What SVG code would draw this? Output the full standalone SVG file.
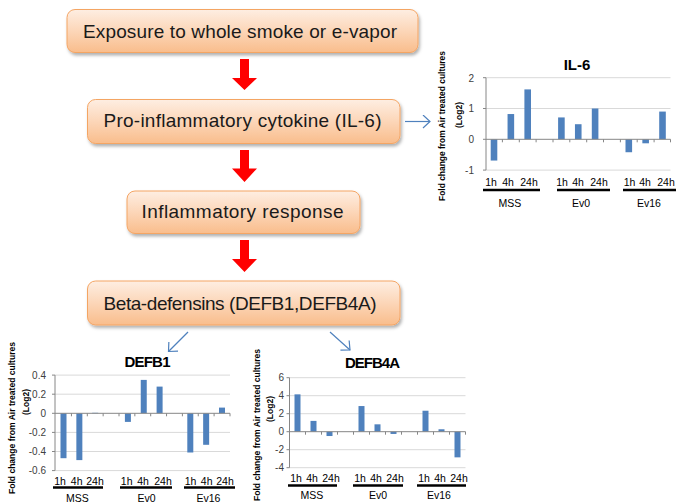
<svg xmlns="http://www.w3.org/2000/svg" width="685" height="503" viewBox="0 0 685 503">
<defs>
<linearGradient id="boxg" x1="0" y1="0" x2="0" y2="1">
<stop offset="0" stop-color="#FEEEE2"/>
<stop offset="0.5" stop-color="#FCD6B8"/>
<stop offset="1" stop-color="#F9BD8C"/>
</linearGradient>
<filter id="sh" x="-10%" y="-20%" width="120%" height="160%">
<feDropShadow dx="1.5" dy="2.5" stdDeviation="1.5" flood-color="#000" flood-opacity="0.3"/>
</filter>
<marker id="open" viewBox="0 0 14 14" refX="13" refY="7" markerWidth="14" markerHeight="14" orient="auto" markerUnits="userSpaceOnUse">
<path d="M6,0.5 L13,7 L6,13.5" fill="none" stroke="#4F81BD" stroke-width="1.2"/>
</marker>
<style>
.box{fill:url(#boxg);stroke:#F4A564;stroke-width:1;filter:url(#sh)}
.bt{font-family:"Liberation Sans",Arial,sans-serif;font-size:19px;fill:#1a1a1a;text-anchor:middle}
.red{fill:#FF0000}
.blue{stroke:#4F81BD;stroke-width:1.2;fill:none;marker-end:url(#open)}
.bar{fill:#4F81BD}
.grid{stroke:#D9D9D9;stroke-width:1}
.axis{stroke:#868686;stroke-width:1}
.tl{font-family:"Liberation Sans",Arial,sans-serif;font-size:10px;fill:#404040;text-anchor:end}
.cl{font-family:"Liberation Sans",Arial,sans-serif;font-size:10.5px;fill:#000;text-anchor:middle}
.ul{stroke:#000;stroke-width:2.5}
.ct{font-family:"Liberation Sans",Arial,sans-serif;font-size:15px;font-weight:bold;fill:#000;text-anchor:middle}
.at{font-family:"Liberation Sans",Arial,sans-serif;font-size:8.5px;font-weight:bold;fill:#000;text-anchor:middle}
</style>
</defs>
<rect width="685" height="503" fill="#fff"/>

<g id="n-exposure">
<rect class="box" x="67" y="9.5" width="351" height="43" rx="8"/>
<text class="bt" x="240" y="38" textLength="314">Exposure to whole smoke or e-vapor</text>
</g>
<g id="n-il6">
<rect class="box" x="87.5" y="99.5" width="312.5" height="44" rx="8"/>
<text class="bt" x="242.5" y="127" textLength="278">Pro-inflammatory cytokine (IL-6)</text>
</g>
<g id="n-inflam">
<rect class="box" x="127" y="191" width="233" height="42.5" rx="8"/>
<text class="bt" x="242.5" y="218" textLength="202">Inflammatory response</text>
</g>
<g id="n-beta">
<rect class="box" x="87.5" y="281" width="312.5" height="44" rx="8"/>
<text class="bt" x="240" y="310" textLength="273">Beta-defensins (DEFB1,DEFB4A)</text>
</g>

<g id="connectors">
<path class="red" d="M240,59 H249 V78 H257 L244.5,90 L232,78 H240 Z"/>
<path class="red" d="M240,150 H249 V168.5 H257 L244.5,182 L232,168.5 H240 Z"/>
<path class="red" d="M240,240 H249 V259 H257 L244.5,272 L232,259 H240 Z"/>
<line class="blue" x1="405" y1="121.5" x2="430" y2="121.5"/>
<line class="blue" x1="188" y1="332" x2="168.5" y2="351.5"/>
<line class="blue" x1="330" y1="332" x2="350" y2="350"/>
</g>

<g id="chart-il6">
<text class="ct" x="577" y="70">IL-6</text>
<line class="grid" x1="486" y1="77.7" x2="670.5" y2="77.7"/>
<line class="grid" x1="486" y1="108.5" x2="670.5" y2="108.5"/>
<line class="grid" x1="486" y1="170.1" x2="670.5" y2="170.1"/>
<g class="axis">
<line x1="486" y1="77.7" x2="486" y2="170.1"/>
<line x1="483" y1="77.7" x2="486" y2="77.7"/><line x1="483" y1="108.5" x2="486" y2="108.5"/><line x1="483" y1="139.3" x2="486" y2="139.3"/><line x1="483" y1="170.1" x2="486" y2="170.1"/>
</g>
<text class="tl" x="474" y="81.5">2</text>
<text class="tl" x="474" y="112.3">1</text>
<text class="tl" x="474" y="143">0</text>
<text class="tl" x="474" y="173.8">-1</text>
<rect class="bar" x="490.7" y="139.3" width="6.6" height="21.25"/>
<rect class="bar" x="507.55" y="114.04" width="6.6" height="25.26"/>
<rect class="bar" x="524.4" y="89.4" width="6.6" height="49.9"/>
<rect class="bar" x="558.1" y="117.43" width="6.6" height="21.87"/>
<rect class="bar" x="574.95" y="124.21" width="6.6" height="15.09"/>
<rect class="bar" x="591.8" y="108.5" width="6.6" height="30.8"/>
<rect class="bar" x="625.5" y="139.3" width="6.6" height="12.94"/>
<rect class="bar" x="642.35" y="139.3" width="6.6" height="4"/>
<rect class="bar" x="659.2" y="111.58" width="6.6" height="27.72"/>
<g class="axis">
<line x1="486" y1="139.3" x2="670.5" y2="139.3"/>
<path d="M502.4,139.3v3M519.3,139.3v3M536.1,139.3v3M553,139.3v3M569.8,139.3v3M586.7,139.3v3M603.5,139.3v3M620.4,139.3v3M637.2,139.3v3M654.1,139.3v3M670.5,139.3v3"/>
</g>
<text class="cl" x="491" y="185.5">1h</text><text class="cl" x="508" y="185.5">4h</text><text class="cl" x="529" y="185.5">24h</text>
<text class="cl" x="562" y="185.5">1h</text><text class="cl" x="578" y="185.5">4h</text><text class="cl" x="599" y="185.5">24h</text>
<text class="cl" x="629.5" y="185.5">1h</text><text class="cl" x="645" y="185.5">4h</text><text class="cl" x="666" y="185.5">24h</text>
<line class="ul" x1="483" y1="190" x2="540" y2="190"/>
<line class="ul" x1="557" y1="190" x2="610" y2="190"/>
<line class="ul" x1="623" y1="190" x2="676" y2="190"/>
<text class="cl" x="510" y="207">MSS</text>
<text class="cl" x="581" y="207">Ev0</text>
<text class="cl" x="649" y="207">Ev16</text>
<text class="at" transform="translate(445,126) rotate(-90)" textLength="150" lengthAdjust="spacingAndGlyphs">Fold change from Air treated cultures</text>
<text class="at" transform="translate(462,115) rotate(-90)">(Log2)</text>
</g>

<g id="chart-defb1">
<text class="ct" x="147.5" y="366.5" textLength="46">DEFB1</text>
<g class="grid">
<line x1="55" y1="375.1" x2="230" y2="375.1"/><line x1="55" y1="394.2" x2="230" y2="394.2"/><line x1="55" y1="432.4" x2="230" y2="432.4"/><line x1="55" y1="451.5" x2="230" y2="451.5"/><line x1="55" y1="470.6" x2="230" y2="470.6"/>
</g>
<g class="axis">
<line x1="55" y1="375.1" x2="55" y2="470.6"/>
<path d="M52,375.1h3M52,394.2h3M52,413.3h3M52,432.4h3M52,451.5h3M52,470.6h3"/>
</g>
<text class="tl" x="46" y="378.6">0.4</text>
<text class="tl" x="46" y="397.7">0.2</text>
<text class="tl" x="46" y="416.8">0</text>
<text class="tl" x="46" y="435.9">-0.2</text>
<text class="tl" x="46" y="455">-0.4</text>
<text class="tl" x="46" y="474.1">-0.6</text>
<rect class="bar" x="60.5" y="413.3" width="6" height="44.9"/>
<rect class="bar" x="76.35" y="413.3" width="6" height="46.8"/>
<rect class="bar" x="92.2" y="412.8" width="6" height="0.5"/>
<rect class="bar" x="124.9" y="413.3" width="6" height="8.6"/>
<rect class="bar" x="140.75" y="379.9" width="6" height="33.4"/>
<rect class="bar" x="156.6" y="386.6" width="6" height="26.7"/>
<rect class="bar" x="187.3" y="413.3" width="6" height="39.2"/>
<rect class="bar" x="203.15" y="413.3" width="6" height="31.5"/>
<rect class="bar" x="219" y="407.6" width="6" height="5.7"/>
<g class="axis">
<line x1="55" y1="413.3" x2="230" y2="413.3"/>
<path d="M71.45,413.3v3M87.3,413.3v3M103.15,413.3v3M119,413.3v3M134.85,413.3v3M150.7,413.3v3M166.55,413.3v3M182.4,413.3v3M198.25,413.3v3M214.1,413.3v3M230,413.3v3"/>
</g>
<text class="cl" x="60" y="484.5">1h</text><text class="cl" x="76.7" y="484.5">4h</text><text class="cl" x="95" y="484.5">24h</text>
<text class="cl" x="126.7" y="484.5">1h</text><text class="cl" x="143" y="484.5">4h</text><text class="cl" x="163" y="484.5">24h</text>
<text class="cl" x="190.5" y="484.5">1h</text><text class="cl" x="206.7" y="484.5">4h</text><text class="cl" x="225" y="484.5">24h</text>
<line class="ul" x1="53" y1="487.5" x2="103" y2="487.5"/>
<line class="ul" x1="120" y1="487.5" x2="172" y2="487.5"/>
<line class="ul" x1="184" y1="487.5" x2="235" y2="487.5"/>
<text class="cl" x="77.5" y="502">MSS</text>
<text class="cl" x="146.5" y="502">Ev0</text>
<text class="cl" x="208.5" y="502">Ev16</text>
<text class="at" transform="translate(15,418) rotate(-90)" textLength="152" lengthAdjust="spacingAndGlyphs">Fold change from Air treated cultures</text>
<text class="at" transform="translate(29,402) rotate(-90)">(Log2)</text>
</g>

<g id="chart-defb4a">
<text class="ct" x="372.5" y="368" textLength="55">DEFB4A</text>
<g class="grid">
<line x1="289.5" y1="377.7" x2="465.5" y2="377.7"/><line x1="289.5" y1="395.7" x2="465.5" y2="395.7"/><line x1="289.5" y1="413.7" x2="465.5" y2="413.7"/><line x1="289.5" y1="449.7" x2="465.5" y2="449.7"/><line x1="289.5" y1="467.7" x2="465.5" y2="467.7"/>
</g>
<g class="axis">
<line x1="289.5" y1="377.7" x2="289.5" y2="467.7"/>
<path d="M286.5,377.7h3M286.5,395.7h3M286.5,413.7h3M286.5,431.7h3M286.5,449.7h3M286.5,467.7h3"/>
</g>
<text class="tl" x="284" y="381.2">6</text>
<text class="tl" x="284" y="399.2">4</text>
<text class="tl" x="284" y="417.2">2</text>
<text class="tl" x="284" y="435.2">0</text>
<text class="tl" x="284" y="453.2">-2</text>
<text class="tl" x="284" y="471.2">-4</text>
<rect class="bar" x="294.5" y="394.35" width="6" height="37.35"/>
<rect class="bar" x="310.5" y="420.9" width="6" height="10.8"/>
<rect class="bar" x="326.5" y="431.7" width="6" height="4.32"/>
<rect class="bar" x="358.5" y="406.05" width="6" height="25.65"/>
<rect class="bar" x="374.5" y="424.32" width="6" height="7.38"/>
<rect class="bar" x="390.5" y="431.7" width="6" height="2.25"/>
<rect class="bar" x="422.5" y="410.73" width="6" height="20.97"/>
<rect class="bar" x="438.5" y="429.27" width="6" height="2.43"/>
<rect class="bar" x="454.5" y="431.7" width="6" height="25.65"/>
<g class="axis">
<line x1="289.5" y1="431.7" x2="465.5" y2="431.7"/>
<path d="M305.5,431.7v3M321.5,431.7v3M337.5,431.7v3M353.5,431.7v3M369.5,431.7v3M385.5,431.7v3M401.5,431.7v3M417.5,431.7v3M433.5,431.7v3M449.5,431.7v3M465.5,431.7v3"/>
</g>
<text class="cl" x="296" y="482">1h</text><text class="cl" x="312" y="482">4h</text><text class="cl" x="331" y="482">24h</text>
<text class="cl" x="360" y="482">1h</text><text class="cl" x="376" y="482">4h</text><text class="cl" x="395" y="482">24h</text>
<text class="cl" x="424" y="482">1h</text><text class="cl" x="440" y="482">4h</text><text class="cl" x="459" y="482">24h</text>
<line class="ul" x1="288" y1="485.5" x2="337" y2="485.5"/>
<line class="ul" x1="353" y1="485.5" x2="403" y2="485.5"/>
<line class="ul" x1="417" y1="485.5" x2="466" y2="485.5"/>
<text class="cl" x="312" y="499">MSS</text>
<text class="cl" x="378" y="499">Ev0</text>
<text class="cl" x="439" y="499">Ev16</text>
<text class="at" transform="translate(260,425) rotate(-90)" textLength="152" lengthAdjust="spacingAndGlyphs">Fold change from Air treated cultures</text>
<text class="at" transform="translate(273,409) rotate(-90)">(Log2)</text>
</g>
</svg>
